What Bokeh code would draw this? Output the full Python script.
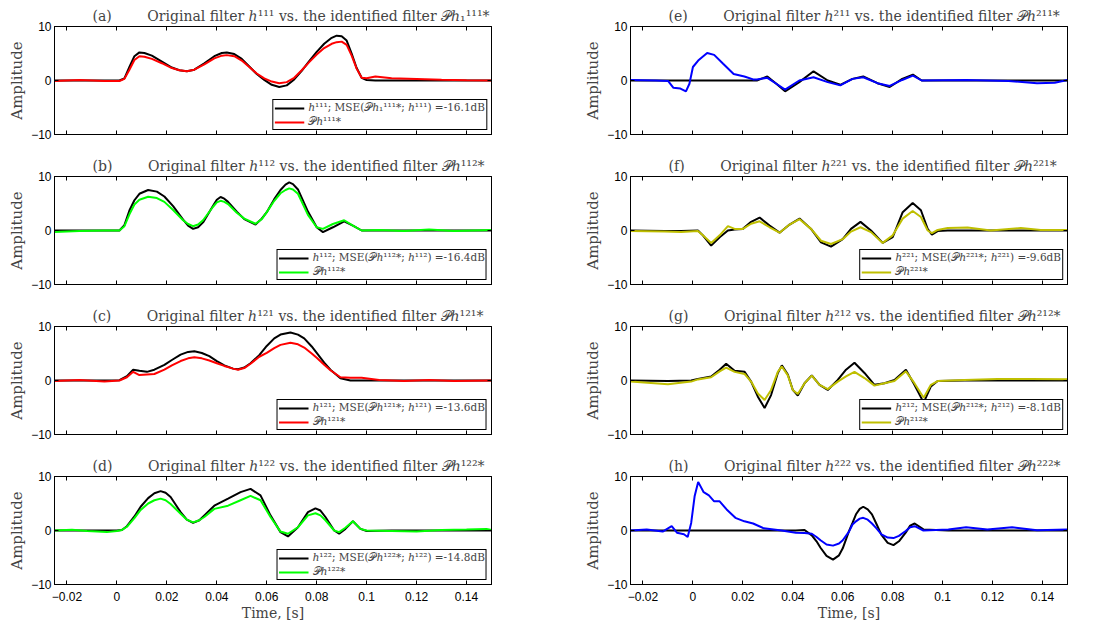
from bokeh.plotting import figure
from bokeh.models import (Range1d, LinearAxis, FixedTicker, CustomJSTickFormatter,
                          Legend, LegendItem)
from bokeh.layouts import gridplot
from bokeh.embed import file_html
from bokeh.resources import INLINE

# ---------------- data ----------------
x_ticks = [-0.02, 0, 0.02, 0.04, 0.06, 0.08, 0.1, 0.12, 0.14]
y_ticks = [-10, 0, 10]
x_start, x_end = -0.025, 0.15
y_start, y_end = -10, 10

t_a = [-0.025, -0.015, -0.005, 0.001, 0.003, 0.005, 0.007, 0.009, 0.011, 0.014,
       0.018, 0.022, 0.025, 0.028, 0.031, 0.035, 0.039, 0.042, 0.044, 0.047,
       0.050, 0.053, 0.056, 0.059, 0.062, 0.065, 0.068, 0.071, 0.074, 0.077,
       0.080, 0.083, 0.086, 0.088, 0.090, 0.092, 0.094, 0.096, 0.098, 0.100,
       0.1035, 0.11, 0.12, 0.13, 0.14, 0.15]
h111 = [0, 0, 0, 0, 0.4, 2.5, 4.5, 5.2, 5.1, 4.6,
        3.5, 2.4, 1.9, 1.7, 2.0, 3.2, 4.5, 5.1, 5.2, 4.9,
        4.0, 2.6, 1.2, 0.1, -0.8, -1.2, -0.9, 0.2, 1.8, 3.6,
        5.3, 6.8, 7.9, 8.3, 8.2, 7.4, 5.0, 2.3, 0.5, 0.1,
        0, 0, 0, 0, 0, 0]
p111 = [-0.1, 0.1, -0.1, -0.1, 0.3, 2.0, 3.8, 4.5, 4.4, 4.0,
        3.2, 2.3, 1.9, 1.7, 2.0, 3.0, 4.1, 4.6, 4.7, 4.5,
        3.7, 2.5, 1.3, 0.4, -0.2, -0.5, -0.3, 0.5, 1.9, 3.4,
        4.8, 6.0, 6.8, 7.1, 7.2, 6.6, 4.6, 2.2, 0.5, 0.4,
        0.75, 0.4, 0.3, 0.15, 0.05, 0.0]

t_b = [-0.025, -0.015, -0.005, 0.001, 0.003, 0.005, 0.007, 0.009, 0.0125, 0.016,
       0.019, 0.0225, 0.0265, 0.0285, 0.0305, 0.0325, 0.0345, 0.0385, 0.040, 0.0415,
       0.043, 0.0445, 0.048, 0.051, 0.0555, 0.058, 0.06, 0.063, 0.0655, 0.0675,
       0.069, 0.0705, 0.0725, 0.0765, 0.08, 0.0825, 0.0865, 0.091, 0.0945, 0.098,
       0.105, 0.115, 0.125, 0.135, 0.15]
h112 = [0, 0, 0, 0, 1.0, 3.7, 5.6, 6.8, 7.5, 7.2,
        6.3, 4.5, 2.0, 0.9, 0.3, 0.6, 1.5, 4.6, 5.7, 6.2,
        5.9, 5.3, 3.5, 2.1, 1.1, 2.2, 3.4, 5.8, 7.5, 8.5,
        8.9, 8.6, 7.6, 3.5, 0.6, -0.3, 0.6, 1.7, 0.9, 0,
        0, 0, 0, 0, 0]
p112 = [-0.3, -0.1, 0, 0, 0.8, 3.0, 4.8, 5.7, 6.25, 6.0,
        5.3, 3.8, 1.9, 1.2, 0.8, 1.1, 1.9, 4.4, 5.2, 5.5,
        5.3, 4.9, 3.3, 2.2, 1.25, 2.1, 3.4, 5.5, 6.9, 7.5,
        7.8, 7.6, 6.8, 2.9, 0.6, 0.3, 1.2, 1.9, 0.9, 0,
        0.1, -0.1, 0.2, -0.1, 0.1]

t_c = [-0.025, -0.015, -0.005, 0.001, 0.004, 0.0065, 0.009, 0.012, 0.015, 0.019,
       0.022, 0.0255, 0.0285, 0.031, 0.034, 0.037, 0.040, 0.043, 0.0465, 0.0485,
       0.051, 0.0535, 0.057, 0.060, 0.063, 0.0655, 0.0695, 0.0725, 0.075, 0.078,
       0.080, 0.083, 0.0855, 0.0895, 0.0935, 0.098, 0.105, 0.115, 0.125, 0.135, 0.15]
h121 = [0, 0, 0, 0.05, 0.8, 2.0, 1.8, 1.6, 2.0, 2.9,
        3.8, 4.8, 5.3, 5.4, 5.1, 4.5, 3.6, 2.8, 2.2, 2.1,
        2.4, 3.2, 4.7, 6.4, 7.8, 8.5, 8.9, 8.5, 7.8, 6.3,
        5.1, 3.3, 2.0, 0.4, 0, 0, 0, 0, 0, 0, 0]
p121 = [-0.1, 0.1, -0.2, 0, 0.6, 1.6, 1.0, 1.1, 1.2, 2.0,
        2.8, 3.6, 4.1, 4.3, 4.1, 3.7, 3.2, 2.7, 2.2, 2.0,
        2.3, 3.1, 4.4, 5.1, 6.0, 6.6, 7.0, 6.7, 6.1, 5.0,
        4.2, 2.9, 1.9, 0.6, 0.5, 0.5, 0.1, -0.1, 0.1, -0.1, 0]

t_d = [-0.025, -0.018, -0.012, -0.004, 0.0, 0.002, 0.004, 0.007, 0.0095, 0.0125,
       0.015, 0.0175, 0.0195, 0.0215, 0.0255, 0.028, 0.0305, 0.033, 0.035, 0.039,
       0.0445, 0.0495, 0.0535, 0.0575, 0.0615, 0.0655, 0.0685, 0.0725, 0.0765, 0.0795,
       0.0815, 0.0835, 0.087, 0.089, 0.0915, 0.0945, 0.0975, 0.100, 0.11, 0.12,
       0.13, 0.14, 0.148, 0.15]
h122 = [0, 0, 0, 0, 0, 0.1, 0.8, 2.6, 4.4, 6.0,
        6.9, 7.3, 7.0, 6.2, 3.4, 2.0, 1.4, 1.9, 2.8, 4.6,
        5.9, 7.1, 7.7, 6.5, 2.8, -0.3, -1.1, 0.6, 3.4, 4.1,
        3.7, 2.5, 0, -0.6, 0.3, 1.7, 0.3, -0.1, 0, 0,
        0, 0, 0, 0]
p122 = [0, 0.15, -0.1, -0.3, -0.1, 0.1, 0.7, 2.3, 3.8, 5.0,
        5.6, 5.9, 5.6, 4.9, 3.1, 2.0, 1.5, 1.9, 2.5, 4.0,
        4.6, 5.6, 6.4, 5.6, 2.5, -0.2, -0.6, 0.6, 2.8, 3.2,
        2.8, 1.9, 0, -0.3, 0.5, 1.7, 0.3, 0, -0.1, -0.2,
        0.1, 0.2, 0.3, 0.1]

t_e = [-0.025, -0.015, -0.0099, -0.0078, -0.005, -0.0028, -0.0014, 0.0, 0.0021, 0.0057,
       0.0085, 0.0121, 0.0163, 0.0206, 0.0241, 0.0256, 0.0298, 0.0334, 0.0369, 0.0426,
       0.0483, 0.054, 0.059, 0.0639, 0.0682, 0.0739, 0.0788, 0.0838, 0.0881, 0.0916,
       0.1, 0.1094, 0.1264, 0.1378, 0.1449, 0.15]
h211 = [0, 0, 0, 0, 0, 0, 0, 0, 0, 0,
        0, 0, 0, 0, 0, 0, 0.75, -0.6, -2.0, -0.3,
        1.7, 0, -0.8, 0.3, 0.75, -0.5, -1.2, 0.3, 1.1, 0,
        0, 0, 0, 0, 0, 0]
p211 = [0.1, 0.0, -0.1, -1.35, -1.5, -2.0, -0.6, 2.5, 3.7, 5.1,
        4.75, 3.1, 1.2, 0.75, 0.2, 0.2, 0.5, -0.6, -1.7, 0,
        0.6, -0.3, -0.9, 0.3, 0.6, -0.5, -1.0, 0.1, 0.9, 0,
        0.05, 0.1, -0.1, -0.5, -0.4, 0.1]

t_f = [-0.025, -0.0113, -0.0047, 0.002, 0.004, 0.0073, 0.0107, 0.014, 0.0167, 0.02,
       0.0233, 0.0267, 0.0307, 0.0347, 0.0387, 0.0427, 0.0473, 0.0513, 0.0553, 0.06,
       0.0633, 0.0671, 0.0713, 0.076, 0.08, 0.084, 0.088, 0.0913, 0.094, 0.0957,
       0.098, 0.102, 0.11, 0.1193, 0.1313, 0.1393, 0.15]
h221 = [0, -0.1, -0.1, 0, -0.9, -2.8, -1.25, 0, 0.2, 0.3,
        1.6, 2.4, 0.9, -0.4, 1.1, 2.2, 0.3, -2.2, -3.0, -1.6,
        0.3, 1.6, 0, -2.3, -1.25, 3.4, 5.1, 3.75, 0.3, -0.75,
        -0.1, 0, 0, 0, 0, 0, 0]
p221 = [-0.1, -0.2, -0.3, -0.1, -0.9, -2.3, -0.9, 0.8, 0.3, 0.3,
        1.25, 1.7, 0.6, -0.4, 1.1, 2.1, 0.3, -1.9, -2.5, -1.6,
        -0.2, 0.6, -0.3, -2.3, -0.9, 2.2, 3.6, 2.5, 0, -0.5,
        0.1, 0.45, 0.55, 0, 0.45, 0.1, 0.1]

t_g = [-0.025, -0.01, -0.0007, 0.002, 0.0073, 0.0107, 0.0133, 0.0167, 0.0207, 0.0233,
       0.026, 0.0287, 0.0313, 0.034, 0.0356, 0.038, 0.04, 0.042, 0.0447, 0.0476,
       0.0507, 0.054, 0.058, 0.0613, 0.0647, 0.0687, 0.0727, 0.0767, 0.0807, 0.0853,
       0.0887, 0.0924, 0.0953, 0.098, 0.1087, 0.122, 0.1353, 0.15]
h212 = [0, -0.1, 0, 0.3, 0.75, 2.0, 3.1, 1.8, 1.6, -0.2,
        -3.0, -5.1, -2.7, 1.4, 2.8, 1.1, -1.75, -2.8, -0.5, 0.95,
        -0.8, -1.75, 0.1, 2.0, 3.3, 1.4, -0.8, -0.5, 0.1, 2.0,
        -0.8, -4.1, -1.1, -0.1, 0, 0, 0, 0]
p212 = [-0.2, -0.7, -0.2, 0.2, 0.6, 1.7, 2.4, 1.6, 1.2, -0.2,
        -2.4, -3.6, -1.75, 1.6, 2.6, 0.95, -1.75, -2.5, -0.5, 0.9,
        -0.8, -1.6, -0.2, 0.75, 1.6, 0.45, -0.95, -0.5, -0.1, 1.7,
        -0.5, -3.2, -0.8, -0.1, 0.1, 0.3, 0.3, 0.25]

t_h = [-0.025, -0.0185, -0.0121, -0.0085, -0.0064, -0.0036, -0.0021, -0.0007, 0.0007, 0.0021,
       0.0043, 0.0064, 0.0085, 0.0107, 0.0135, 0.017, 0.0206, 0.0241, 0.0284, 0.0355,
       0.0412, 0.0447, 0.0476, 0.0495, 0.0511, 0.0535, 0.0561, 0.0585, 0.0600, 0.0625,
       0.0639, 0.0653, 0.0668, 0.0682, 0.0700, 0.0717, 0.0735, 0.0755, 0.0780, 0.0803,
       0.0825, 0.0852, 0.0870, 0.0888, 0.0923, 0.1023, 0.1094, 0.1179, 0.1278, 0.1378,
       0.15]
h222 = [0, 0, 0, 0, 0, 0, 0, 0, 0, 0,
        0, 0, 0, 0, 0, 0, 0, 0, 0, 0,
        0, 0.1, -0.9, -2.0, -3.2, -4.7, -5.4, -4.6, -3.3, -0.1,
        1.4, 3.0, 4.0, 4.4, 3.9, 3.0, 1.2, -0.8, -2.3, -2.7,
        -2.0, -0.4, 0.9, 1.3, 0.2, 0, 0, 0, 0, 0,
        0]
p222 = [0, 0.2, -0.2, 0.8, -0.4, -0.7, -1.2, 1.4, 6.4, 9.0,
        7.1, 6.5, 5.4, 5.4, 3.9, 2.35, 1.7, 1.3, 0.4, 0,
        -0.4, -0.45, -0.6, -1.2, -1.8, -2.6, -2.8, -2.4, -1.8, -0.2,
        1.1, 1.7, 2.2, 2.35, 2.0, 1.3, 0.4, -0.7, -1.3, -1.4,
        -1.0, -0.1, 0.6, 0.8, 0, 0.2, 0.6, 0.2, 0.6, 0.05,
        0.2]

letters = ["a", "b", "c", "d", "e", "f", "g", "h"]
orig_ids = ["¹¹¹", "¹¹²", "¹²¹", "¹²²", "²¹¹", "²²¹", "²¹²", "²²²"]
ident_titles = ["𝒫ℎ₁¹¹¹*", "𝒫ℎ¹¹²*", "𝒫ℎ¹²¹*", "𝒫ℎ¹²²*", "𝒫ℎ²¹¹*", "𝒫ℎ²²¹*", "𝒫ℎ²¹²*", "𝒫ℎ²²²*"]
mse_db = ["-16.1", "-16.4", "-13.6", "-14.8", None, "-9.6", "-8.1", None]
colors = ["#FF0000", "#00FF00", "#FF0000", "#00FF00", "#0000FF", "#BFBF00", "#BFBF00", "#0000FF"]
times = [t_a, t_b, t_c, t_d, t_e, t_f, t_g, t_h]
originals = [h111, h112, h121, h122, h211, h221, h212, h222]
identified = [p111, p112, p121, p122, p211, p221, p212, p222]

# ---------------- styling ----------------
TICK_FONT = "Liberation Sans"
SERIF = "DejaVu Serif"

x_fmt = CustomJSTickFormatter(code="""
if (Math.abs(tick) < 1e-9) { return "0"; }
let s = Math.abs(tick).toFixed(2).replace(/0+$/, "").replace(/\\.$/, "");
return (tick < 0 ? "\\u2212" : "") + s;
""")
y_fmt = CustomJSTickFormatter(code="""
return (tick < 0 ? "\\u2212" : "") + Math.abs(tick).toFixed(0);
""")


def style_axis(ax, show_labels, fmt):
    ax.major_tick_in = 4
    ax.major_tick_out = 0
    ax.minor_tick_line_color = None
    ax.axis_line_color = "black"
    ax.major_tick_line_color = "black"
    ax.formatter = fmt
    if show_labels:
        ax.major_label_text_font = TICK_FONT
        ax.major_label_text_font_size = "12px"
        ax.major_label_text_color = "black"
    else:
        ax.major_label_text_font_size = "0px"
        ax.major_label_text_color = None
        ax.major_label_standoff = 0


def make_panel(i, left_col, bottom_row):
    w = 576 if left_col else 511
    h = 174 if bottom_row else 150
    p = figure(width=w, height=h,
               x_range=Range1d(x_start, x_end), y_range=Range1d(y_start, y_end),
               output_backend="svg", toolbar_location=None, tools="",
               min_border_left=54, min_border_right=(85 if left_col else 20),
               min_border_top=26, min_border_bottom=(40 if bottom_row else 16))
    p.xgrid.visible = False
    p.ygrid.visible = False
    p.outline_line_color = "black"
    p.outline_line_alpha = 1
    p.background_fill_color = "white"
    p.border_fill_color = "white"

    sup = orig_ids[i]
    p.title.text = ("(" + letters[i] + ")" + "\u00a0" * 8 + "Original filter ℎ" + sup
                    + " vs. the identified filter " + ident_titles[i])
    p.title.text_font = SERIF
    p.title.text_font_size = "14px"
    p.title.text_font_style = "normal"
    p.title.align = "left"
    p.title.offset = 38
    p.title.standoff = 6

    xa = p.below[0]
    xa.ticker = FixedTicker(ticks=x_ticks)
    style_axis(xa, bottom_row, x_fmt)
    if bottom_row:
        xa.major_label_standoff = 7
        xa.axis_label = "Time, [s]"
        xa.axis_label_text_font = SERIF
        xa.axis_label_text_font_size = "14px"
        xa.axis_label_text_font_style = "normal"
        xa.axis_label_standoff = 1

    ya = p.left[0]
    ya.ticker = FixedTicker(ticks=y_ticks)
    style_axis(ya, True, y_fmt)
    ya.major_label_standoff = 3
    ya.axis_label = "Amplitude"
    ya.axis_label_text_font = SERIF
    ya.axis_label_text_font_size = "15px"
    ya.axis_label_text_font_style = "normal"
    ya.axis_label_standoff = 2

    top = LinearAxis(ticker=FixedTicker(ticks=x_ticks))
    style_axis(top, False, x_fmt)
    p.add_layout(top, "above")
    right = LinearAxis(ticker=FixedTicker(ticks=y_ticks))
    style_axis(right, False, y_fmt)
    p.add_layout(right, "right")

    r1 = p.line(times[i], originals[i], line_color="black", line_width=2)
    r2 = p.line(times[i], identified[i], line_color=colors[i], line_width=2)

    if mse_db[i] is not None:
        ident_sup = ident_titles[i]
        lab1 = "ℎ" + sup + "; MSE(" + ident_sup + "; ℎ" + sup + ") =" + mse_db[i] + "dB"
        lab2 = "𝒫ℎ" + sup + "*"
        leg = Legend(items=[LegendItem(label=lab1, renderers=[r1]),
                            LegendItem(label=lab2, renderers=[r2])],
                     location="bottom_right")
        leg.label_text_font = SERIF
        leg.label_text_font_size = "10.5px"
        leg.label_height = 12
        leg.glyph_height = 12
        leg.glyph_width = 30
        leg.spacing = 1
        leg.padding = 1
        leg.margin = 4
        leg.label_standoff = 4
        leg.border_line_color = "black"
        leg.border_line_width = 1
        leg.border_line_alpha = 1
        leg.background_fill_alpha = 1
        p.add_layout(leg)
    return p


panels = []
for i in range(8):
    left_col = i < 4
    bottom_row = (i % 4) == 3
    panels.append(make_panel(i, left_col, bottom_row))

grid = gridplot([[panels[0], panels[4]],
                 [panels[1], panels[5]],
                 [panels[2], panels[6]],
                 [panels[3], panels[7]]], toolbar_location=None)

open("out.html", "w").write(file_html(grid, INLINE))
